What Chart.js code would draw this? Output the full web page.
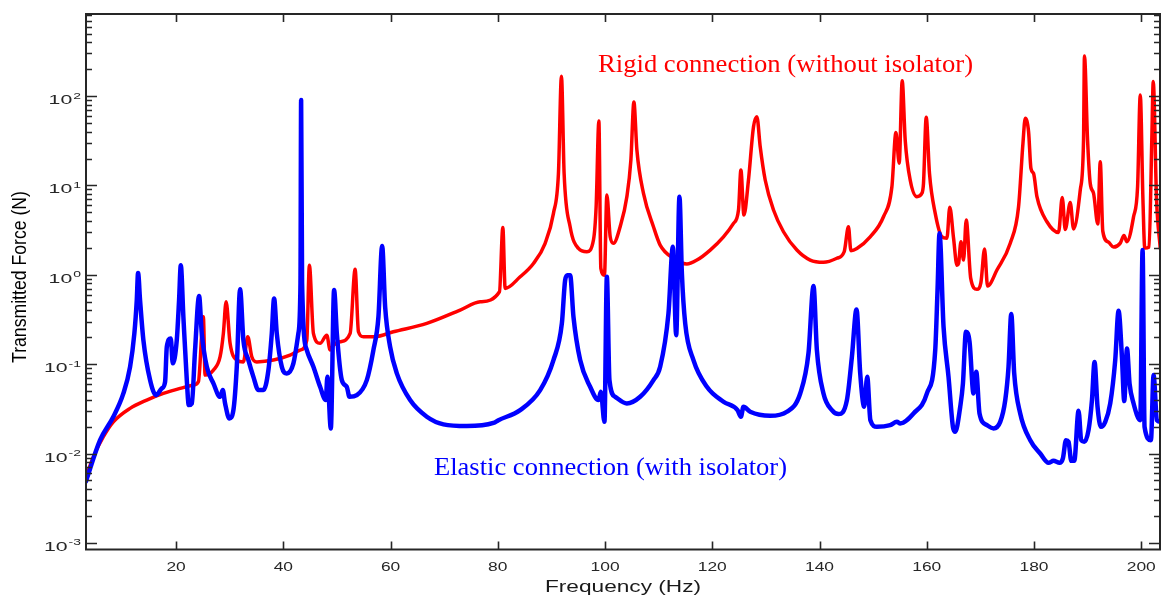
<!DOCTYPE html>
<html>
<head>
<meta charset="utf-8">
<title>Transmitted force</title>
<script src="https://cdn.jsdelivr.net/npm/chart.js"></script>
<style>
  html, body { margin: 0; padding: 0; background: #fff; }
  canvas { display: block; }
</style>
</head>
<body>
<canvas id="forceChart" width="1161" height="598"></canvas>
<script>
// values (Hz, N)
const elasticHz = [3.2, 5.82, 8.3, 10.17, 11.42, 12.22, 12.67, 12.91, 13.28, 13.9, 15.15, 16.27, 17.33, 17.95, 18.27, 19.01, 19.38, 20.13, 20.56, 20.88, 21.36, 22.0, 22.37, 22.93, 23.54, 24.29, 24.79, 25.73, 26.96, 28.21, 28.71, 29.14, 29.94, 30.69, 31.32, 31.94, 32.55, 33.49, 34.42, 35.35, 36.28, 37.22, 37.85, 38.28, 38.78, 39.72, 40.65, 41.88, 42.81, 43.2, 43.32, 43.5, 44.38, 45.61, 46.86, 47.92, 48.22, 48.86, 49.47, 49.98, 50.91, 51.84, 52.33, 53.71, 55.57, 56.8, 57.74, 58.43, 58.99, 59.92, 61.17, 63.65, 66.76, 69.86, 74.23, 79.19, 80.12, 84.17, 87.9, 90.38, 91.95, 92.56, 92.99, 93.49, 94.11, 95.36, 97.22, 98.77, 99.22, 99.89, 100.34, 100.82, 101.89, 104.07, 106.55, 109.03, 110.28, 111.83, 112.65, 113.27, 113.88, 114.33, 114.95, 116.49, 118.99, 122.09, 124.7, 125.33, 125.82, 127.07, 130.8, 133.91, 136.4, 137.94, 138.88, 139.51, 140.74, 142.31, 143.54, 145.11, 146.04, 146.9, 147.59, 148.34, 148.9, 149.49, 150.7, 153.18, 154.43, 155.05, 157.53, 160.03, 161.58, 162.01, 162.38, 163.13, 164.06, 164.88, 165.31, 166.24, 166.75, 167.31, 167.98, 168.72, 169.23, 169.84, 171.22, 172.45, 173.7, 174.64, 175.25, 175.76, 176.31, 177.43, 179.3, 181.16, 182.71, 183.64, 184.76, 185.39, 185.96, 186.44, 186.95, 187.51, 188.31, 188.81, 189.37, 190.17, 190.81, 191.29, 191.85, 192.49, 193.29, 194.22, 195.15, 195.77, 196.4, 196.83, 197.34, 197.82, 198.57, 199.82, 200.25, 200.62, 201.81, 202.3, 202.93, 203.55];
const elasticN = [0.0049, 0.0141, 0.0258, 0.047, 0.0933, 0.221, 0.521, 1.05, 0.521, 0.186, 0.0663, 0.045, 0.0535, 0.0634, 0.156, 0.194, 0.102, 0.186, 0.521, 1.28, 0.339, 0.0663, 0.0348, 0.0363, 0.1436, 0.578, 0.221, 0.0933, 0.0609, 0.0431, 0.0512, 0.0363, 0.0247, 0.0306, 0.0933, 0.687, 0.186, 0.111, 0.0721, 0.0512, 0.0512, 0.0858, 0.221, 0.544, 0.221, 0.0933, 0.0788, 0.102, 0.221, 0.801, 90.2, 0.801, 0.1436, 0.0933, 0.0558, 0.0396, 0.0721, 0.0191, 0.674, 0.221, 0.0663, 0.0558, 0.0431, 0.045, 0.0663, 0.1436, 0.339, 2.1, 0.438, 0.156, 0.0788, 0.0396, 0.0258, 0.0212, 0.0203, 0.022, 0.0236, 0.0306, 0.0512, 0.111, 0.286, 0.872, 0.99, 0.99, 0.339, 0.111, 0.0558, 0.0396, 0.049, 0.0226, 0.95, 0.0663, 0.0431, 0.0363, 0.0431, 0.0663, 0.0933, 0.37, 2.06, 0.211, 7.47, 1.04, 0.286, 0.111, 0.0558, 0.0379, 0.0306, 0.0258, 0.0333, 0.0293, 0.0264, 0.0293, 0.047, 0.132, 0.747, 0.1436, 0.047, 0.0306, 0.0276, 0.0396, 0.121, 0.41, 0.0788, 0.0333, 0.0721, 0.0236, 0.0199, 0.0208, 0.0226, 0.0217, 0.0281, 0.047, 0.1436, 0.674, 2.91, 0.262, 0.0721, 0.0199, 0.0175, 0.0333, 0.0609, 0.23, 0.178, 0.047, 0.0821, 0.0281, 0.0208, 0.0191, 0.0226, 0.0396, 0.0933, 0.363, 0.0788, 0.0281, 0.0141, 0.01, 0.00787, 0.00828, 0.00787, 0.00881, 0.0141, 0.0135, 0.00828, 0.00828, 0.03, 0.0141, 0.0135, 0.0183, 0.0396, 0.106, 0.0333, 0.0199, 0.0226, 0.0363, 0.111, 0.395, 0.121, 0.0386, 0.15, 0.0609, 0.0363, 0.0236, 1.89, 0.0199, 0.0141, 0.0754, 0.0236, 0.0226];

const rigidHz = [3.2, 4.57, 6.44, 8.3, 11.42, 14.53, 17.63, 20.75, 23.23, 24.16, 25.09, 25.41, 26.96, 28.21, 28.82, 29.33, 30.07, 31.32, 32.55, 33.37, 34.12, 35.05, 38.15, 41.26, 43.13, 44.38, 44.86, 45.61, 46.86, 48.11, 48.73, 49.34, 50.59, 52.46, 53.39, 54.01, 54.94, 57.12, 60.53, 66.76, 72.98, 76.71, 80.31, 80.94, 81.37, 84.17, 86.65, 88.83, 90.38, 91.31, 91.87, 92.37, 93.49, 95.04, 96.61, 97.84, 98.34, 98.85, 99.22, 99.89, 100.34, 100.96, 101.57, 102.82, 104.07, 104.82, 105.38, 105.94, 107.17, 109.03, 110.28, 112.76, 115.26, 117.13, 119.61, 122.09, 123.96, 124.89, 125.34, 125.9, 126.75, 127.69, 128.32, 128.94, 129.87, 131.42, 133.28, 135.78, 138.26, 140.74, 143.24, 144.6, 145.4, 145.85, 146.97, 149.45, 151.93, 153.5, 154.25, 154.86, 155.42, 155.98, 156.91, 158.16, 159.09, 159.39, 159.9, 160.51, 161.58, 162.83, 163.76, 164.29, 165.0, 165.63, 165.93, 166.38, 166.86, 167.36, 168.2, 169.36, 170.1, 170.78, 171.34, 173.09, 175.57, 177.12, 177.94, 178.37, 178.99, 179.43, 179.92, 180.55, 182.42, 184.58, 185.27, 185.83, 186.76, 187.38, 188.63, 189.24, 189.41, 189.99, 190.49, 191.11, 191.9, 192.36, 192.83, 193.86, 194.85, 196.09, 196.78, 197.34, 198.57, 199.32, 199.82, 200.32, 200.66, 201.46, 201.97, 202.24, 202.86, 203.55];
const rigidN = [0.00548, 0.00918, 0.0154, 0.0226, 0.032, 0.0396, 0.047, 0.0535, 0.0582, 0.0634, 0.339, 0.0754, 0.0858, 0.121, 0.221, 0.499, 0.171, 0.111, 0.106, 0.202, 0.121, 0.106, 0.111, 0.126, 0.1436, 0.186, 1.28, 0.221, 0.171, 0.211, 0.1436, 0.163, 0.178, 0.221, 1.15, 0.23, 0.202, 0.203, 0.23, 0.286, 0.403, 0.499, 0.645, 3.39, 0.704, 0.95, 1.34, 2.25, 4.87, 13.6, 167, 13.6, 3.45, 1.97, 1.81, 2.45, 5.77, 52.5, 1.18, 0.99, 7.8, 2.66, 2.25, 3.45, 7.47, 19.2, 85.7, 24.9, 8.15, 3.45, 2.15, 1.53, 1.32, 1.46, 1.89, 2.66, 3.76, 5.3, 14.9, 4.66, 11.5, 45.4, 58.7, 27.1, 11.5, 5.3, 3.03, 1.89, 1.46, 1.38, 1.53, 1.81, 3.45, 1.86, 1.97, 2.66, 4.46, 9.66, 39.1, 17.7, 148, 32.2, 11.5, 7.47, 8.15, 10.5, 57.8, 13.6, 4.87, 2.66, 2.56, 5.68, 2.56, 1.28, 1.34, 2.34, 1.46, 4.1, 0.911, 0.687, 0.818, 1.94, 0.747, 1.13, 2.25, 5.77, 29.6, 56.3, 39.9, 15.5, 13.6, 7.47, 3.92, 2.98, 7.32, 3.21, 6.43, 3.25, 8.87, 32.2, 281, 32.2, 10.5, 8.15, 3.69, 18.4, 3.08, 2.32, 2.04, 2.26, 2.75, 2.34, 4.46, 9.66, 103, 6.86, 1.99, 2.04, 32.2, 145, 6.86, 1.97];

const xTicks = [20, 40, 60, 80, 100, 120, 140, 160, 180, 200];
const yDecades = [-3, -2, -1, 0, 1, 2];
const xRange = [3.2, 203.5];
const yRange = [0.000843, 828];

const xTitle = 'Frequency (Hz)';
const yTitle = 'Transmitted Force (N)';
const rigidLabel = 'Rigid connection (without isolator)';
const elasticLabel = 'Elastic connection (with isolator)';

const toPoints = (hz, n) => hz.map((f, i) => ({ x: f, y: n[i] }));

// text drawn with a horizontal stretch, like the squeezed figure
function stretchText(ctx, str, x, y, font, sx, align) {
  ctx.save();
  ctx.font = font;
  const w = ctx.measureText(str).width * sx;
  const left = align === 'center' ? x - w / 2 : align === 'right' ? x - w : x;
  ctx.translate(left, y);
  ctx.scale(sx, 1);
  ctx.textAlign = 'left';
  ctx.fillText(str, 0, 0);
  ctx.restore();
  return w;
}

function fitText(ctx, str, left, y, font, width) {
  ctx.save();
  ctx.font = font;
  const sx = width / ctx.measureText(str).width;
  ctx.translate(left, y);
  ctx.scale(sx, 1);
  ctx.textAlign = 'left';
  ctx.fillText(str, 0, 0);
  ctx.restore();
}

const framePlugin = {
  id: 'frame',
  afterDraw(chart) {
    const { ctx, chartArea: a, scales: { x, y } } = chart;
    ctx.save();
    ctx.strokeStyle = '#262626';
    ctx.lineWidth = 2;
    ctx.strokeRect(a.left, a.top, a.right - a.left, a.bottom - a.top);

    ctx.lineWidth = 1.6;
    ctx.beginPath();
    xTicks.forEach(v => {
      const px = Math.round(x.getPixelForValue(v)) + 0.5;
      ctx.moveTo(px, a.bottom); ctx.lineTo(px, a.bottom - 8);
      ctx.moveTo(px, a.top); ctx.lineTo(px, a.top + 8);
    });
    yDecades.forEach(k => {
      for (let m = 1; m < 10; m++) {
        const v = m * Math.pow(10, k);
        if (v < yRange[0] || v > yRange[1]) continue;
        const py = Math.round(y.getPixelForValue(v)) + 0.5;
        const len = m === 1 ? 11 : 6;
        ctx.moveTo(a.left, py); ctx.lineTo(a.left + len, py);
        ctx.moveTo(a.right, py); ctx.lineTo(a.right - len, py);
      }
    });
    ctx.stroke();

    // tick labels
    ctx.fillStyle = '#262626';
    ctx.textBaseline = 'alphabetic';
    xTicks.forEach(v => {
      stretchText(ctx, String(v), x.getPixelForValue(v), 571, '12px "Liberation Sans", Arial, sans-serif', 1.45, 'center');
    });
    yDecades.forEach(k => {
      const py = y.getPixelForValue(Math.pow(10, k));
      const baseFont = '12.5px "Liberation Sans", Arial, sans-serif';
      const expFont = '9px "Liberation Sans", Arial, sans-serif';
      const exp = String(k);
      ctx.font = expFont;
      const we = ctx.measureText(exp).width * 1.55;
      const right = 81;
      stretchText(ctx, exp, right, py + 2.5, expFont, 1.55, 'right');
      stretchText(ctx, '10', right - we - 1, py + 8, baseFont, 1.7, 'right');
    });

    // axis titles
    ctx.fillStyle = '#1a1a1a';
    fitText(ctx, xTitle, 545, 592, '16px "Liberation Sans", Arial, sans-serif', 156);
    ctx.save();
    ctx.translate(26, 277);
    ctx.rotate(-Math.PI / 2);
    ctx.font = '16px "Liberation Sans", Arial, sans-serif';
    const tw = ctx.measureText(yTitle).width;
    ctx.scale(172 / tw, 1.25);
    ctx.textAlign = 'center';
    ctx.fillStyle = '#000';
    ctx.fillText(yTitle, 0, 0);
    ctx.restore();

    // curve labels
    ctx.fillStyle = '#ff0000';
    fitText(ctx, rigidLabel, 598, 72, '26px "Liberation Serif", "Times New Roman", serif', 375);
    ctx.fillStyle = '#0000ff';
    fitText(ctx, elasticLabel, 434, 475, '26px "Liberation Serif", "Times New Roman", serif', 353);
    ctx.restore();
  }
};

const ctx = document.getElementById('forceChart').getContext('2d');
const chart = new Chart(ctx, {
  type: 'line',
  data: {
    datasets: [
      {
        label: elasticLabel,
        data: toPoints(elasticHz, elasticN),
        borderColor: '#0000ff',
        borderWidth: 4.5,
        order: 0
      },
      {
        label: rigidLabel,
        data: toPoints(rigidHz, rigidN),
        borderColor: '#ff0000',
        borderWidth: 3.5,
        order: 1
      }
    ]
  },
  options: {
    responsive: false,
    animation: false,
    devicePixelRatio: 1,
    parsing: false,
    layout: { padding: { left: 86, top: 14, right: 1, bottom: 48.5 } },
    elements: {
      point: { radius: 0 },
      line: { cubicInterpolationMode: 'monotone', borderJoinStyle: 'round', borderCapStyle: 'round', fill: false }
    },
    scales: {
      x: { type: 'linear', min: xRange[0], max: xRange[1], display: false },
      y: { type: 'logarithmic', min: yRange[0], max: yRange[1], display: false }
    },
    plugins: {
      legend: { display: false },
      tooltip: { enabled: false }
    }
  },
  plugins: [framePlugin]
});
</script>
</body>
</html>
